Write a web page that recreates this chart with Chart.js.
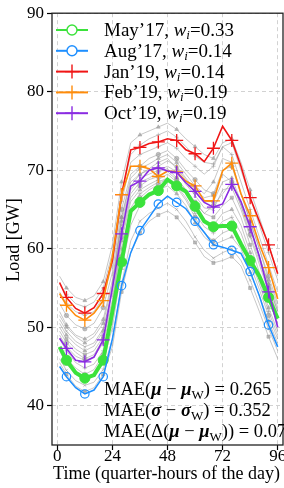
<!DOCTYPE html>
<html>
<head>
<meta charset="utf-8">
<script src="https://cdn.jsdelivr.net/npm/chart.js@4.4.1/dist/chart.umd.min.js"></script>
<style>
  html, body { margin: 0; padding: 0; background: #fff; }
</style>
</head>
<body>
<canvas id="c" width="284" height="488"></canvas>
<script>
// =========================================================
//  Daily load profiles (quarter-hours) – data
// =========================================================

const quarters = [1, 4, 8, 12, 16, 20, 24, 28, 32, 36, 40, 44, 48, 52, 56, 60, 64, 68, 72, 76, 80, 84, 88, 92, 96];
const xTicks = [0, 24, 48, 72, 96];
const yTicks = [40, 50, 60, 70, 80, 90];

const may17 = [47.5, 45.8, 44.2, 43.5, 43.9, 45.8, 52.0, 58.3, 64.8, 65.9, 66.9, 67.4, 68.8, 68.0, 67.3, 65.4, 63.5, 62.8, 62.9, 62.9, 60.6, 58.5, 56.5, 53.8, 51.1];
const aug17 = [45.0, 43.7, 42.3, 41.5, 42.0, 43.7, 48.5, 55.3, 59.5, 62.3, 64.0, 65.7, 66.7, 65.9, 65.1, 63.5, 62.1, 60.5, 60.2, 59.8, 59.4, 57.1, 54.0, 50.3, 47.5];
const jan19 = [55.7, 53.8, 52.4, 51.8, 52.5, 54.3, 58.5, 66.9, 72.6, 72.9, 73.4, 73.6, 74.0, 73.8, 72.6, 72.1, 71.1, 72.8, 75.6, 73.8, 70.5, 66.5, 63.5, 60.5, 56.8];
const feb19 = [54.3, 52.8, 51.5, 50.9, 51.8, 53.4, 59.0, 66.9, 70.5, 70.5, 70.2, 69.2, 69.9, 69.8, 68.6, 68.0, 66.1, 66.1, 69.9, 70.9, 67.0, 64.2, 60.6, 57.6, 53.6];
const oct19 = [48.6, 47.3, 45.8, 45.6, 46.2, 48.4, 55.0, 61.9, 68.0, 68.6, 70.0, 70.3, 69.9, 69.7, 68.4, 67.3, 65.9, 65.3, 65.7, 68.2, 66.0, 62.8, 59.0, 54.5, 50.0];

// other months, drawn in grey behind the highlighted ones
const otherMonths = [
  [56.5, 55.0, 53.8, 53.4, 54.0, 55.8, 60.5, 68.5, 73.5, 74.5, 75.0, 75.5, 76.0, 75.2, 74.0, 73.0, 72.0, 71.5, 73.5, 74.0, 71.0, 67.5, 64.0, 60.5, 57.0],
  [54.5, 53.0, 52.0, 51.5, 52.0, 53.8, 58.0, 66.0, 71.0, 72.0, 72.5, 73.0, 73.5, 72.8, 71.5, 70.5, 69.5, 70.5, 73.0, 72.0, 68.5, 65.0, 61.5, 58.0, 54.5],
  [53.0, 51.5, 50.3, 49.8, 50.5, 52.5, 57.0, 65.0, 69.5, 70.5, 71.5, 72.0, 72.5, 71.5, 70.0, 68.8, 67.5, 67.0, 70.0, 70.5, 67.0, 63.5, 60.0, 56.5, 53.0],
  [52.0, 50.3, 49.0, 48.5, 49.2, 51.0, 56.0, 64.0, 68.5, 69.5, 70.0, 70.5, 71.2, 70.5, 69.0, 67.5, 66.5, 66.8, 69.5, 68.5, 65.5, 62.5, 59.0, 55.5, 52.0],
  [51.0, 49.5, 48.2, 47.5, 48.0, 49.8, 54.5, 63.0, 67.5, 69.0, 69.5, 70.0, 70.5, 69.8, 68.2, 66.8, 65.2, 65.0, 67.5, 67.8, 65.0, 61.5, 58.0, 54.5, 51.0],
  [50.0, 48.5, 47.2, 46.5, 47.0, 48.8, 53.5, 62.0, 67.0, 68.5, 69.0, 69.8, 70.2, 69.0, 67.5, 66.0, 64.5, 64.0, 65.5, 66.5, 64.0, 60.5, 57.0, 53.5, 50.5],
  [49.0, 47.5, 46.3, 45.8, 46.2, 48.0, 52.5, 61.0, 66.0, 67.5, 68.2, 68.8, 69.5, 68.5, 67.0, 65.2, 63.5, 63.0, 64.5, 65.0, 63.0, 59.5, 56.0, 52.5, 49.5],
  [48.5, 47.0, 45.5, 44.8, 45.3, 47.0, 51.5, 60.0, 65.2, 67.0, 67.8, 68.5, 69.0, 68.0, 66.5, 64.5, 62.8, 62.0, 63.5, 64.0, 62.0, 58.8, 55.5, 52.0, 49.0],
  [47.5, 46.0, 44.8, 44.0, 44.6, 46.5, 51.0, 59.0, 64.5, 66.5, 67.5, 68.2, 69.0, 67.8, 66.2, 64.0, 62.0, 61.0, 62.0, 62.5, 60.8, 58.0, 54.8, 51.5, 48.5],
  [47.0, 45.3, 44.0, 43.3, 43.8, 45.5, 50.0, 57.5, 63.0, 65.5, 66.8, 67.5, 68.0, 67.0, 65.5, 63.3, 61.5, 60.5, 61.0, 61.5, 60.0, 57.0, 54.0, 50.8, 48.0],
  [46.0, 44.5, 43.2, 42.6, 43.0, 44.6, 48.5, 55.5, 61.0, 63.5, 64.5, 65.2, 65.8, 65.0, 63.5, 61.5, 59.8, 58.8, 59.5, 60.0, 58.5, 56.0, 53.0, 49.8, 47.0],
  [45.5, 44.0, 42.5, 41.8, 42.3, 44.0, 47.5, 54.5, 59.5, 62.0, 63.5, 64.3, 64.8, 64.0, 62.5, 60.8, 59.0, 58.2, 58.5, 59.0, 57.8, 55.0, 52.0, 48.8, 46.0],
  [50.5, 49.0, 47.8, 47.0, 47.6, 49.5, 55.0, 64.0, 69.0, 70.2, 70.8, 71.5, 72.0, 71.0, 69.5, 68.0, 67.0, 68.5, 71.5, 71.0, 67.0, 63.5, 60.0, 56.0, 52.5],
  [55.5, 54.2, 53.0, 52.6, 53.2, 55.0, 59.5, 67.0, 72.0, 73.2, 74.0, 74.5, 75.0, 74.2, 73.0, 71.8, 71.0, 70.8, 73.0, 73.5, 70.0, 66.5, 63.0, 59.5, 56.0],
  [49.5, 48.0, 46.8, 46.0, 46.5, 48.5, 53.0, 61.5, 66.5, 68.0, 68.8, 69.2, 69.8, 68.8, 67.5, 65.8, 64.5, 65.5, 67.0, 68.5, 65.5, 61.8, 58.5, 55.0, 51.5],
  [51.5, 50.0, 48.8, 48.0, 48.8, 50.5, 55.5, 63.5, 68.0, 69.5, 70.2, 71.0, 71.5, 70.2, 68.8, 67.2, 66.0, 66.0, 68.5, 69.0, 66.0, 62.5, 59.0, 55.5, 52.0],
];

const legendLabels = ["May’17", "Aug’17", "Jan’19", "Feb’19", "Oct’19"];
const weights = ["0.33", "0.14", "0.14", "0.19", "0.19"];
const maeValues = ["0.265", "0.352", "0.07"];

// =========================================================
//  Helpers
// =========================================================

const SERIF = '"Liberation Serif", "DejaVu Serif", serif';
const toPoints = (arr) => quarters.map((t, i) => ({ x: t, y: arr[i] }));
const everyOther = (r) => (ctx) => (ctx.dataIndex % 2 === 1 ? r : 0);

const COLORS = {
  may17: "#3be23b",
  aug17: "#1e8fff",
  jan19: "#f01515",
  feb19: "#ff8c0a",
  oct19: "#8a2be2",
};

function crossSeries(label, data, color) {
  return {
    label, data: toPoints(data),
    borderColor: color, backgroundColor: color,
    borderWidth: 1.6,
    pointStyle: "cross", pointRadius: everyOther(6.5), pointBorderWidth: 1.3,
    pointBorderColor: color,
    tension: 0, order: 2,
  };
}

const greyStyles = ["triangle", "cross", "circle", "triangle", "crossRot", "rect"];

// draw "text" pieces with their own fonts / offsets
function richText(ctx, x, y, parts) {
  parts.forEach(p => {
    ctx.font = p.font;
    ctx.fillText(p.t, x, y + (p.dy || 0));
    x += ctx.measureText(p.t).width;
  });
}

// ── overlay: frame, titles, legend, MAE box ───────────────
const overlay = {
  id: "overlay",
  afterDraw(chart) {
    const ctx = chart.ctx;
    const a = chart.chartArea;
    ctx.save();

    // frame
    ctx.strokeStyle = "#222";
    ctx.lineWidth = 1.3;
    ctx.strokeRect(a.left, a.top, a.right - a.left, a.bottom - a.top);

    ctx.fillStyle = "#000";
    ctx.textBaseline = "alphabetic";

    // axis titles
    ctx.font = `18px ${SERIF}`;
    ctx.textAlign = "center";
    ctx.fillText("Time (quarter-hours of the day)", 166.5, 479);
    ctx.save();
    ctx.translate(19, 240);
    ctx.rotate(-Math.PI / 2);
    ctx.fillText("Load [GW]", 0, 0);
    ctx.restore();

    // legend
    ctx.textAlign = "left";
    const keys = ["may17", "aug17", "jan19", "feb19", "oct19"];
    keys.forEach((k, i) => {
      const base = 36 + i * 20.8;
      const ly = base - 6;
      const col = COLORS[k];
      ctx.strokeStyle = col;
      ctx.lineWidth = 2;
      ctx.beginPath();
      ctx.moveTo(56, ly); ctx.lineTo(88, ly);
      ctx.stroke();
      ctx.lineWidth = 1.4;
      ctx.beginPath();
      if (i < 2) {
        ctx.fillStyle = "#fff";
        ctx.arc(72, ly, 5, 0, Math.PI * 2);
        ctx.fill();
        ctx.stroke();
      } else {
        ctx.moveTo(72 - 7, ly); ctx.lineTo(72 + 7, ly);
        ctx.moveTo(72, ly - 7); ctx.lineTo(72, ly + 7);
        ctx.stroke();
      }
      ctx.fillStyle = "#000";
      richText(ctx, 104, base, [
        { t: legendLabels[i] + ", ", font: `19px ${SERIF}` },
        { t: "w", font: `italic 19px ${SERIF}` },
        { t: "i", font: `italic 13px ${SERIF}`, dy: 3 },
        { t: "=" + weights[i], font: `19px ${SERIF}` },
      ]);
    });

    // MAE annotations
    const reg = `18.5px ${SERIF}`;
    const bi = `italic bold 18.5px ${SERIF}`;
    const sub = `13px ${SERIF}`;
    ctx.fillStyle = "#000";
    richText(ctx, 104, 395, [
      { t: "MAE(", font: reg }, { t: "μ", font: bi }, { t: " − ", font: reg },
      { t: "μ", font: bi }, { t: "W", font: sub, dy: 4 }, { t: ") = " + maeValues[0], font: reg },
    ]);
    richText(ctx, 104, 416, [
      { t: "MAE(", font: reg }, { t: "σ", font: bi }, { t: " − ", font: reg },
      { t: "σ", font: bi }, { t: "W", font: sub, dy: 4 }, { t: ") = " + maeValues[1], font: reg },
    ]);
    richText(ctx, 104, 437, [
      { t: "MAE(Δ(", font: reg }, { t: "μ", font: bi }, { t: " − ", font: reg },
      { t: "μ", font: bi }, { t: "W", font: sub, dy: 4 }, { t: ")) = " + maeValues[2], font: reg },
    ]);
    ctx.restore();
  },
};

// =========================================================
//  Chart
// =========================================================

const greyDatasets = otherMonths.map((m, i) => ({
  label: "other " + i,
  data: toPoints(m),
  borderColor: "rgba(150,150,150,0.6)",
  backgroundColor: "rgba(150,150,150,0.6)",
  borderWidth: 0.9,
  pointStyle: greyStyles[i % greyStyles.length],
  pointRadius: everyOther(2.2),
  pointBorderWidth: 0.8,
  order: 10,
}));

const namedDatasets = [
  {
    label: "May’17", data: toPoints(may17),
    borderColor: COLORS.may17, backgroundColor: COLORS.may17,
    borderWidth: 4, pointStyle: "circle", pointRadius: everyOther(5),
    pointBorderWidth: 1, order: 5,
  },
  {
    label: "Aug’17", data: toPoints(aug17),
    borderColor: COLORS.aug17, backgroundColor: "rgba(0,0,0,0)",
    borderWidth: 1.5, pointStyle: "circle", pointRadius: everyOther(4.2),
    pointBorderWidth: 1.2, order: 4,
  },
  crossSeries("Jan’19", jan19, COLORS.jan19),
  crossSeries("Feb’19", feb19, COLORS.feb19),
  crossSeries("Oct’19", oct19, COLORS.oct19),
];
namedDatasets[2].order = 3;
namedDatasets[4].order = 1;

const gridCommon = {
  color: "#d2d2d2",
  lineWidth: 1,
  drawTicks: true,
  tickLength: 5,
  tickColor: "#000",
  tickWidth: 1.2,
  tickBorderDash: [],
};

new Chart(document.getElementById("c"), {
  type: "line",
  data: { datasets: [...namedDatasets, ...greyDatasets] },
  options: {
    responsive: false,
    animation: false,
    devicePixelRatio: 1,
    layout: { padding: { top: 11, right: 1, left: 0, bottom: 0 } },
    plugins: { legend: { display: false }, tooltip: { enabled: false } },
    elements: { line: { tension: 0 } },
    scales: {
      x: {
        type: "linear", min: -2.3, max: 98.3,
        afterBuildTicks: (s) => { s.ticks = xTicks.map(v => ({ value: v })); },
        afterFit: (s) => { s.height = 43; },
        grid: gridCommon,
        border: { display: false, dash: [4, 3] },
        ticks: { color: "#000", font: { family: SERIF, size: 17 }, padding: -4, maxRotation: 0 },
      },
      y: {
        min: 35, max: 90,
        afterBuildTicks: (s) => { s.ticks = yTicks.map(v => ({ value: v })); },
        afterFit: (s) => { s.width = 52; },
        grid: gridCommon,
        border: { display: false, dash: [4, 3] },
        ticks: { color: "#000", font: { family: SERIF, size: 17 }, padding: 3 },
      },
    },
  },
  plugins: [overlay],
});
</script>
</body>
</html>
